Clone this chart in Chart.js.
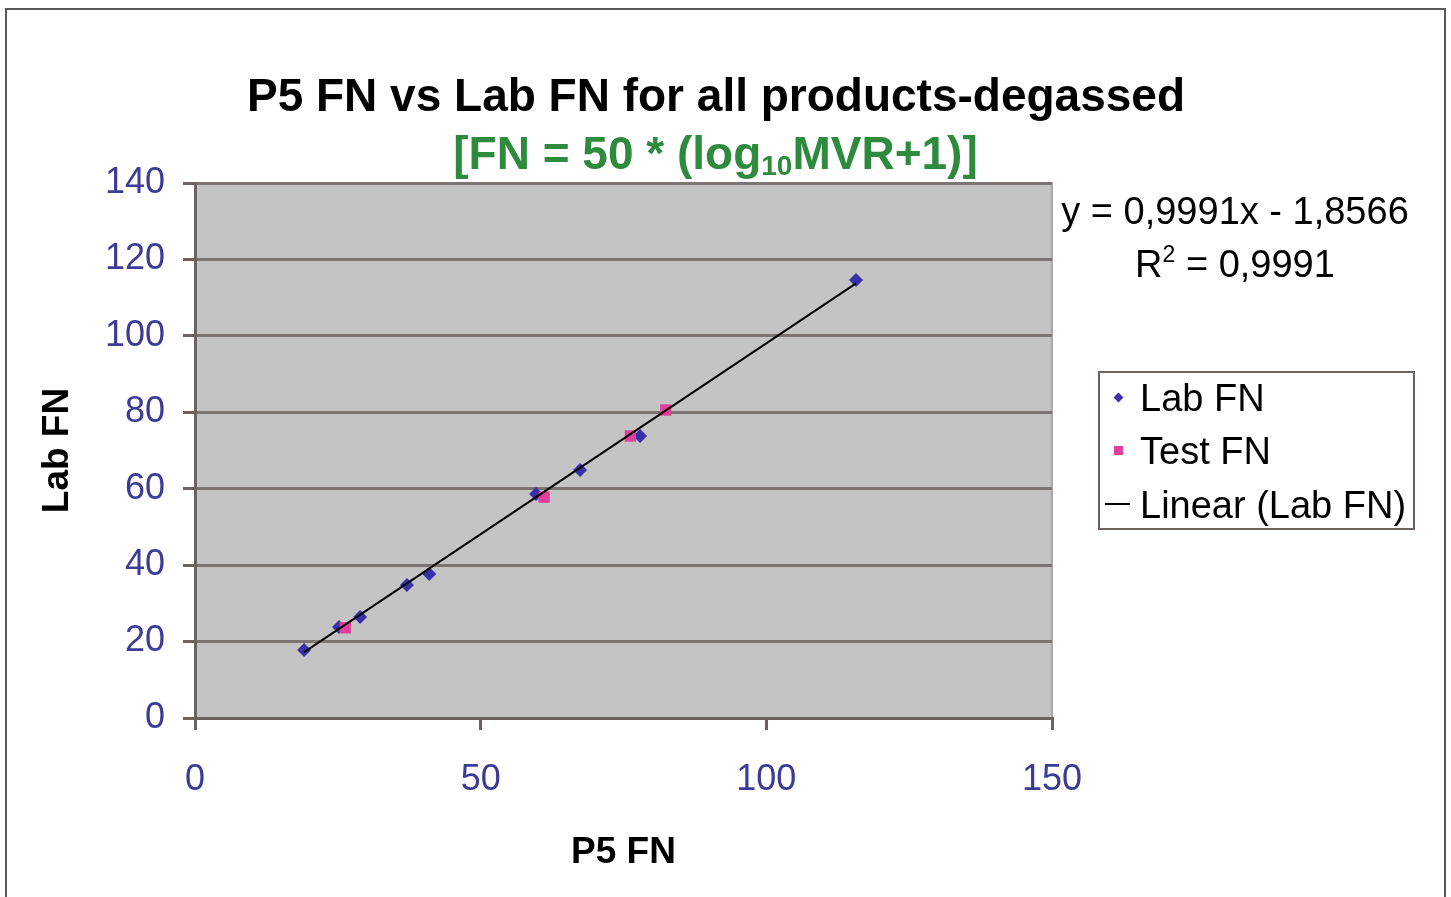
<!DOCTYPE html>
<html>
<head>
<meta charset="utf-8">
<script src="https://cdn.jsdelivr.net/npm/chart.js@4/dist/chart.umd.min.js"></script>
<style>
  html, body { margin: 0; padding: 0; background: #fff; }
  body { width: 1451px; height: 897px; position: relative; overflow: hidden; font-family: "Liberation Sans", Arial, sans-serif; }
  #frame { position: absolute; left: 5px; top: 8px; width: 1441px; height: 900px; border: 2px solid #5a5a5a; box-sizing: border-box; }
  canvas { position: absolute; left: 0; top: 0; }
  .t { position: absolute; white-space: nowrap; }
  #title { left: 0; width: 1432px; text-align: center; top: 72px; font-size: 46px; line-height: 46px; font-weight: bold; color: #000; }
  #sub { left: 0; width: 1431px; text-align: center; top: 130px; font-size: 46px; line-height: 46px; font-weight: bold; color: #2e8b3e; }
  #sub sub { font-size: 28px; line-height: 0; vertical-align: -6px; }
  .eq { left: 1035px; width: 400px; text-align: center; font-size: 38px; line-height: 38px; color: #000; }
  .eq sup { font-size: 23px; line-height: 0; vertical-align: 15px; }
  #legend { position: absolute; left: 1098px; top: 371px; width: 317px; height: 159px; border: 2px solid #6b6360; box-sizing: border-box; }
  .li { position: absolute; left: 1140px; font-size: 38px; line-height: 38px; color: #000; }
  .mk { position: absolute; }
</style>
</head>
<body>
<div id="frame"></div>
<canvas id="c" width="1451" height="897"></canvas>
<div class="t" id="title">P5 FN vs Lab FN for all products-degassed</div>
<div class="t" id="sub">[FN = 50 * (log<sub>10</sub>MVR+1)]</div>
<div class="t eq" style="top:192px">y = 0,9991x - 1,8566</div>
<div class="t eq" style="top:245px">R<sup>2</sup> = 0,9991</div>
<div id="legend"></div>
<div class="mk" style="left:1115px;top:394px;width:7px;height:7px;background:#3b30a8;transform:rotate(45deg)"></div>
<div class="mk" style="left:1114px;top:446px;width:9px;height:9px;background:#e0409a"></div>
<div class="mk" style="left:1105px;top:503px;width:25px;height:2px;background:#000"></div>
<div class="t li" style="top:379px">Lab FN</div>
<div class="t li" style="top:432px">Test FN</div>
<div class="t li" style="top:486px">Linear (Lab FN)</div>
<script>
// Lab FN series (P5 FN, Lab FN)
const labX = [19.1, 25.2, 28.9, 37.1, 41.0, 59.7, 67.4, 77.9, 115.7];
const labY = [17.8, 23.8, 26.4, 34.8, 37.7, 58.6, 64.9, 73.8, 114.6];
// Test FN series
const testX = [26.3, 61.1, 76.2, 82.4];
const testY = [23.6, 57.8, 73.8, 80.6];
// Linear trendline (Lab FN) as displayed
const trendSlope = 0.9991;
const trendIntercept = -1.8566;
// Axis ticks
const xTicks = [0, 50, 100, 150];
const yTicks = [0, 20, 40, 60, 80, 100, 120, 140];

const labPts = labX.map((x, i) => ({x, y: labY[i]}));
const testPts = testX.map((x, i) => ({x, y: testY[i]}));
const xMinLab = Math.min(...labX), xMaxLab = Math.max(...labX);
const trendPts = [xMinLab, xMaxLab].map(x => ({x, y: trendSlope * x + trendIntercept}));

const axisColor = '#6b6360';
const tickFont = {family: '"Liberation Sans", Arial, sans-serif', size: 36};
const titleFont = {family: '"Liberation Sans", Arial, sans-serif', size: 37, weight: 'bold'};

const plotBg = {
  id: 'plotBg',
  beforeDraw(chart) {
    const {ctx, chartArea: a} = chart;
    ctx.save();
    ctx.fillStyle = '#c4c4c4';
    ctx.fillRect(a.left, a.top, a.right - a.left, a.bottom - a.top);
    ctx.strokeStyle = '#a9a9a9';
    ctx.lineWidth = 2;
    ctx.strokeRect(a.left, a.top, a.right - a.left, a.bottom - a.top);
    ctx.restore();
  }
};

new Chart(document.getElementById('c'), {
  type: 'scatter',
  data: {
    datasets: [
      {label: 'Linear (Lab FN)', type: 'line', data: trendPts, borderColor: '#000', borderWidth: 2, pointRadius: 0, fill: false, order: 0},
      {label: 'Test FN', data: testPts, pointStyle: 'rect', pointRadius: 8, backgroundColor: '#e0409a', borderWidth: 0, order: 1},
      {label: 'Lab FN', data: labPts, pointStyle: 'rectRot', pointRadius: 7, backgroundColor: '#3b30a8', borderWidth: 0, order: 2}
    ]
  },
  options: {
    responsive: false,
    animation: false,
    layout: {padding: {top: 183, right: 399, left: 0, bottom: 0}},
    plugins: {legend: {display: false}, tooltip: {enabled: false}, title: {display: false}},
    scales: {
      x: {
        type: 'linear', min: 0, max: 150,
        afterBuildTicks: s => { s.ticks = xTicks.map(v => ({value: v})); },
        afterFit: s => { s.height = 179; },
        ticks: {font: tickFont, color: '#3c3c96', padding: 28, maxRotation: 0},
        grid: {drawOnChartArea: false, drawTicks: true, tickLength: 12, color: axisColor, lineWidth: 3},
        border: {color: axisColor, width: 3},
        title: {display: true, text: 'P5 FN', font: titleFont, color: '#000', padding: {top: 0, bottom: 22}}
      },
      y: {
        type: 'linear', min: 0, max: 140,
        afterBuildTicks: s => { s.ticks = yTicks.map(v => ({value: v})); },
        afterFit: s => { s.width = 195; },
        ticks: {font: tickFont, color: '#3c3c96', padding: 18},
        grid: {color: '#7a7573', lineWidth: 3, tickLength: 12, tickColor: axisColor},
        border: {color: axisColor, width: 3},
        title: {display: true, text: 'Lab FN', font: titleFont, color: '#000', padding: {top: 36, bottom: 0}}
      }
    }
  },
  plugins: [plotBg]
});
</script>
</body>
</html>
